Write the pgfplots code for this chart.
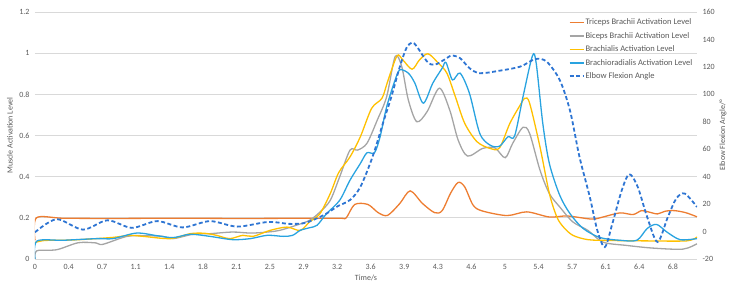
\documentclass[border=0pt]{standalone}
\usepackage{fontspec}
\setmainfont{Carlito}
\usepackage{pgfplots}
\pgfplotsset{compat=1.18}

\definecolor{tri}{HTML}{ED7D31}
\definecolor{bic}{HTML}{A5A5A5}
\definecolor{bra}{HTML}{FFC000}
\definecolor{brd}{HTML}{29A3E0}
\definecolor{ang}{HTML}{2E75D3}
\definecolor{txt}{HTML}{595959}
\definecolor{grd}{HTML}{D9D9D9}

\pgfplotsset{
  base/.style={
    scale only axis, width=662pt, height=247pt,
    at={(0pt,0pt)}, anchor=south west,
    xmin=0, xmax=7.04,
    axis line style={draw=none},
    tick style={draw=none},
    ticklabel style={font=\fontsize{8}{9}\selectfont, text=txt},
    label style={font=\fontsize{8}{9}\selectfont, text=txt},
    /pgf/number format/assume math mode=true,
  },
  emg/.style={smooth, line width=1.3pt, no markers},
}

\begin{document}
\begin{tikzpicture}
\useasboundingbox (-35pt,-32pt) rectangle (699pt,259pt);

% muscle activation levels (left axis)
\begin{axis}[base,
  ymin=0, ymax=1.2,
  ytick={0,0.2,0.4,0.6,0.8,1,1.2},
  yticklabels={0,0.2,0.4,0.6,0.8,1,1.2},
  ymajorgrids, grid style={grd, line width=0.75pt},
  xtick={0,0.357,0.714,1.071,1.428,1.785,2.142,2.499,2.856,3.213,3.570,3.927,4.284,4.641,4.998,5.355,5.712,6.069,6.426,6.783},
  xticklabels={0,0.4,0.7,1.1,1.4,1.8,2.1,2.5,2.9,3.2,3.6,3.9,4.3,4.6,5,5.4,5.7,6.1,6.4,6.8},
  xticklabel style={yshift=-2pt},
  yticklabel style={xshift=-2pt},
  xlabel={Time/s},
  ylabel={Muscle Activation Level},
  xlabel style={at={([yshift=-19pt]axis description cs:0.5,0)}, anchor=center},
  ylabel style={at={([xshift=-25pt]axis description cs:0,0.5)}, anchor=center},
]
% Triceps Brachii
\addplot[emg, tri] coordinates {
(0,0.09) (0.015,0.2) (0.3,0.198) (0.8,0.197) (1.5,0.198) (2.2,0.197) (2.9,0.198)
(3.25,0.198) (3.31,0.2) (3.40,0.265) (3.54,0.265) (3.65,0.225) (3.75,0.212)
(3.88,0.27) (3.99,0.331) (4.12,0.27) (4.25,0.225) (4.33,0.235) (4.42,0.32)
(4.50,0.372) (4.57,0.35) (4.66,0.261) (4.76,0.233) (5.02,0.211) (5.23,0.229)
(5.47,0.204) (5.66,0.209) (5.92,0.194) (6.04,0.204) (6.22,0.224) (6.36,0.216)
(6.45,0.235) (6.53,0.228) (6.62,0.219) (6.70,0.232) (6.80,0.235) (6.92,0.225)
(7.04,0.205)};
% Biceps Brachii
\addplot[emg, bic] coordinates {
(0,0.0) (0.02,0.04) (0.23,0.045) (0.46,0.079) (0.65,0.078) (0.72,0.071)
(0.98,0.11) (1.19,0.113) (1.36,0.11) (1.47,0.099) (1.68,0.12) (1.86,0.123)
(2.10,0.131) (2.29,0.126) (2.45,0.13) (2.60,0.139) (2.78,0.164) (2.92,0.188)
(3.03,0.228) (3.14,0.285) (3.24,0.399) (3.35,0.529) (3.43,0.529) (3.53,0.562)
(3.64,0.675) (3.74,0.789) (3.83,0.984) (3.90,0.935) (3.97,0.773) (4.06,0.667)
(4.17,0.716) (4.30,0.83) (4.41,0.724) (4.50,0.578) (4.60,0.50) (4.76,0.537)
(4.89,0.54) (5.00,0.492) (5.08,0.562) (5.19,0.64) (5.26,0.61) (5.37,0.432)
(5.47,0.318) (5.58,0.253) (5.72,0.18) (5.88,0.139) (6.04,0.082) (6.29,0.066)
(6.57,0.053) (6.89,0.048) (7.04,0.074)};
% Brachialis
\addplot[emg, bra] coordinates {
(0,0.08) (0.1,0.09) (0.3,0.091) (0.51,0.095) (0.83,0.105) (1.01,0.115)
(1.15,0.11) (1.44,0.099) (1.65,0.123) (1.80,0.125) (1.93,0.115) (2.07,0.099)
(2.21,0.115) (2.32,0.11) (2.50,0.139) (2.68,0.155) (2.82,0.139) (2.92,0.18)
(3.03,0.22) (3.14,0.318) (3.23,0.42) (3.35,0.496) (3.46,0.594) (3.58,0.732)
(3.69,0.781) (3.75,0.862) (3.85,0.987) (3.91,0.968) (4.01,0.922) (4.09,0.968)
(4.18,0.997) (4.29,0.951) (4.38,0.903) (4.47,0.789) (4.57,0.659) (4.70,0.57)
(4.84,0.537) (4.94,0.54) (5.05,0.659) (5.16,0.748) (5.21,0.781) (5.26,0.757)
(5.37,0.545) (5.47,0.318) (5.55,0.204) (5.62,0.155) (5.72,0.115) (5.88,0.094)
(6.11,0.09) (6.5,0.088) (6.93,0.088) (7.04,0.107)};
% Brachioradialis
\addplot[emg, brd] coordinates {
(0,0.0) (0.02,0.087) (0.30,0.091) (0.66,0.099) (0.83,0.099) (1.08,0.126)
(1.30,0.113) (1.47,0.104) (1.65,0.12) (1.86,0.11) (2.10,0.094) (2.29,0.099)
(2.47,0.115) (2.64,0.11) (2.74,0.115) (2.82,0.139) (2.92,0.152) (3.00,0.164)
(3.10,0.22) (3.24,0.285) (3.35,0.383) (3.46,0.464) (3.53,0.516) (3.61,0.516)
(3.67,0.594) (3.74,0.74) (3.83,0.87) (3.88,0.919) (3.97,0.903) (4.04,0.854)
(4.13,0.757) (4.23,0.854) (4.33,0.927) (4.37,0.955) (4.44,0.87) (4.52,0.903)
(4.62,0.805) (4.73,0.61) (4.84,0.553) (4.94,0.548) (5.03,0.594) (5.10,0.597)
(5.19,0.789) (5.29,0.987) (5.33,0.951) (5.40,0.659) (5.47,0.464) (5.58,0.31)
(5.69,0.22) (5.83,0.148) (6.01,0.104) (6.22,0.091) (6.40,0.091) (6.51,0.148)
(6.61,0.168) (6.72,0.131) (6.86,0.094) (7.04,0.099)};
\end{axis}

% elbow flexion angle (right axis)
\begin{axis}[base,
  hide x axis,
  ymin=-20, ymax=160,
  ytick={-20,0,20,40,60,80,100,120,140,160},
  yticklabel pos=right,
  yticklabel style={anchor=west, xshift=2pt},
  ylabel={Elbow Flexion Angle/°},
  ylabel style={at={([xshift=26pt]axis description cs:1,0.5)}, anchor=center, rotate=0},
  legend style={at={(rel axis cs:0.8015,0.985)}, anchor=north west,
    draw=none, fill=none, text=txt,
    font=\fontsize{8.5}{9}\selectfont,
    nodes={inner sep=1pt, text height=6pt, text depth=1.5pt},
    row sep=3.9pt},
  legend cell align=left,
  legend image code/.code={\draw[#1] (0pt,0pt) -- (14pt,0pt);},
]
\addlegendimage{draw=tri, line width=1.5pt}
\addlegendentry{Triceps Brachii Activation Level}
\addlegendimage{draw=bic, line width=1.5pt}
\addlegendentry{Biceps Brachii Activation Level}
\addlegendimage{draw=bra, line width=1.5pt}
\addlegendentry{Brachialis Activation Level}
\addlegendimage{draw=brd, line width=1.5pt}
\addlegendentry{Brachioradialis Activation Level}
\addplot[smooth, draw=ang, line width=1.8pt, dash pattern=on 4pt off 2.5pt, no markers] coordinates {
(0,-0.5) (0.23,9.0) (0.51,1.4) (0.77,8.2) (1.03,2.7) (1.30,7.6) (1.57,3.0)
(1.86,7.6) (2.15,3.6) (2.48,7.0) (2.70,5.6) (2.85,6.0) (2.96,8.5) (3.10,13.1)
(3.22,18.5) (3.35,23) (3.46,32.5) (3.59,54.5) (3.70,78.9) (3.79,98.3)
(3.88,120.2) (3.95,133.7) (4.01,137.8) (4.06,134.9) (4.17,123.9) (4.25,121.5)
(4.38,126.4) (4.43,128.3) (4.52,126.4) (4.62,119.1) (4.73,115.4) (4.94,117.2)
(5.16,120.2) (5.32,125.7) (5.44,123.9) (5.58,110.5) (5.69,88) (5.79,54.5)
(5.90,25.2) (5.98,0.9) (6.06,-11.3) (6.14,5.8) (6.24,30.1) (6.32,41.8)
(6.41,32.5) (6.51,10.6) (6.62,-7.6) (6.73,10.6) (6.82,24.1) (6.91,27.7)
(7.04,17.9)};
\addlegendentry{Elbow Flexion Angle}
\end{axis}
\end{tikzpicture}
\end{document}
